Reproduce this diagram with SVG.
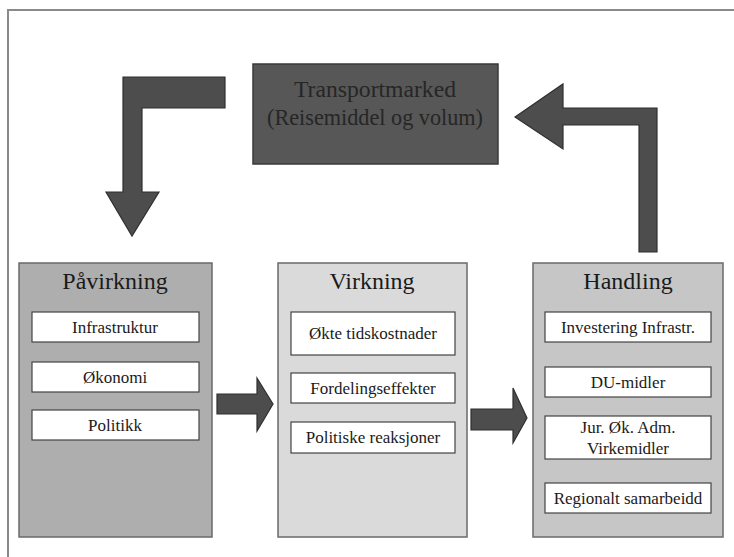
<svg xmlns="http://www.w3.org/2000/svg" width="734" height="557" viewBox="0 0 734 557" font-family="'Liberation Serif', 'DejaVu Serif', 'Times New Roman', serif">
<style>
text{fill:#1a1a1a;text-anchor:middle}
.title{font-size:24px}
.item{font-size:17px}
.big{font-size:24px;fill:#262626}
.panel{stroke:#6a6a6a;stroke-width:1.5}
.inner{fill:#ffffff;stroke:#444;stroke-width:1.2}
.arrow{fill:#4d4d4d;stroke:#2f2f2f;stroke-width:1.2;stroke-linejoin:miter}
.frame{stroke:#8a8a8a;stroke-width:2;fill:none}
</style>
<rect x="0" y="0" width="734" height="557" fill="#ffffff"/>
<path class="frame" d="M8,557 V10 H734"/>

<g id="transportmarked">
<rect x="253" y="64" width="245" height="100" fill="#575757" stroke="#3a3a3a" stroke-width="1.5"/>
<text class="big" x="375" y="97" textLength="162" lengthAdjust="spacingAndGlyphs">Transportmarked</text>
<text class="big" x="375" y="125" textLength="216" lengthAdjust="spacingAndGlyphs">(Reisemiddel og volum)</text>
</g>

<g id="connectors">
<path class="arrow" d="M225,77 V108 H142 V192 H159 L132,236 L106,192 H123 V77 Z"/>
<path class="arrow" d="M657,108 V252 H639 V125 H563 V149 L515,117 L563,84 V108 Z"/>
<path class="arrow" d="M217,394 H257 V378 L273,404 L257,431 V414 H217 Z"/>
<path class="arrow" d="M471,409 H513 V388 L527,418 L513,443 V430 H471 Z"/>
</g>

<g id="pavirkning">
<rect class="panel" x="19" y="263" width="193" height="274" fill="#aeaeae"/>
<text class="title" x="115" y="289">Påvirkning</text>
<rect class="inner" x="32" y="312" width="167" height="30"/>
<text class="item" x="115" y="333">Infrastruktur</text>
<rect class="inner" x="32" y="362" width="167" height="30"/>
<text class="item" x="115" y="383">Økonomi</text>
<rect class="inner" x="32" y="410" width="167" height="30"/>
<text class="item" x="115" y="431">Politikk</text>
</g>

<g id="virkning">
<rect class="panel" x="278" y="263" width="189" height="274" fill="#dadada"/>
<text class="title" x="372" y="289">Virkning</text>
<rect class="inner" x="291" y="312" width="164" height="43"/>
<text class="item" x="373" y="339">Økte tidskostnader</text>
<rect class="inner" x="291" y="373" width="164" height="30"/>
<text class="item" x="373" y="394">Fordelingseffekter</text>
<rect class="inner" x="291" y="422" width="164" height="31"/>
<text class="item" x="373" y="443">Politiske reaksjoner</text>
</g>

<g id="handling">
<rect class="panel" x="533" y="263" width="190" height="274" fill="#c6c6c6"/>
<text class="title" x="628" y="289">Handling</text>
<rect class="inner" x="545" y="312" width="166" height="30"/>
<text class="item" x="628" y="333">Investering Infrastr.</text>
<rect class="inner" x="545" y="367" width="166" height="30"/>
<text class="item" x="628" y="388">DU-midler</text>
<rect class="inner" x="545" y="416" width="166" height="43"/>
<text class="item" x="628" y="433">Jur. Øk. Adm.</text>
<text class="item" x="628" y="454">Virkemidler</text>
<rect class="inner" x="545" y="483" width="166" height="30"/>
<text class="item" x="628" y="504">Regionalt samarbeidd</text>
</g>
</svg>
